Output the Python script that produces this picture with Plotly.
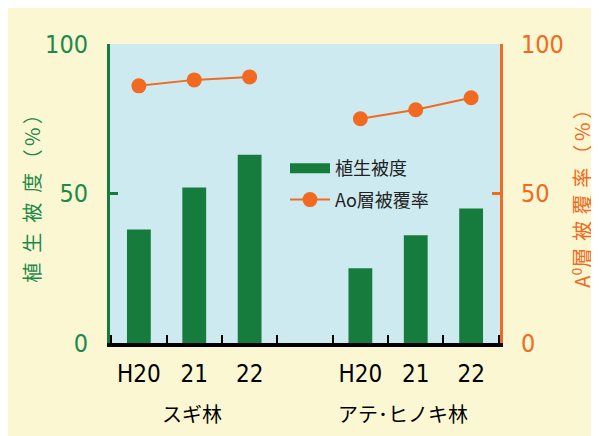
import plotly.graph_objects as go

# ---- data ----
cat_keys = ["スギH20", "スギ21", "スギ22", "gap", "アテH20", "アテ21", "アテ22"]
tick_labels = ["H20", "21", "22", "", "H20", "21", "22"]
group_labels = ["スギ林", "アテ･ヒノキ林"]
vegetation_cover = [38, 52, 63, None, 25, 36, 45]     # 植生被度 (%)
ao_cover = [86, 88, 89, None, 75, 78, 82]             # Ao層被覆率 (%)

GREEN = "#167C3E"
GREEN_TXT = "#1E8A4A"
ORANGE = "#F26A22"
CREAM = "#FBF7D3"
BLUE = "#CDEAF1"
NUM_FONT = "'Noto Sans Condensed', 'Liberation Sans Narrow', 'DejaVu Sans Condensed', 'Roboto Condensed', Roboto, sans-serif"
JP_FONT = "Noto Sans CJK JP"

fig = go.Figure()

fig.add_trace(go.Bar(
    x=cat_keys, y=vegetation_cover, marker=dict(color=GREEN, line=dict(width=0)),
    width=0.43, showlegend=False, name="植生被度",
))
# legend swatch for the bars (wide block like the original)
fig.add_trace(go.Scatter(
    x=[None], y=[None], mode="lines", line=dict(color=GREEN, width=13),
    name="植生被度", legendgroup="a",
))
fig.add_trace(go.Scatter(
    x=cat_keys, y=ao_cover, mode="lines+markers", yaxis="y2",
    line=dict(color=ORANGE, width=2), marker=dict(color=ORANGE, size=15),
    connectgaps=False, name="Ao層被覆率", legendgroup="b",
))

OFF = 8  # page body margin
W, H = 591, 428
L, T = 102, 36
pw, ph = 390, 299
R, B = W - L - pw, H - T - ph

def px(xp):
    return (xp - OFF - L) / pw

def py(yp):
    return (T + ph - (yp - OFF)) / ph

sp = "\u2002"
th = "\u2006"
sp2 = "\u2004"

fig.update_layout(
    width=W, height=H,
    margin=dict(l=L, r=R, t=T, b=B, autoexpand=False),
    paper_bgcolor=CREAM,
    plot_bgcolor=BLUE,
    font=dict(family=JP_FONT, color="#222"),
    xaxis=dict(
        type="category", categoryorder="array", categoryarray=cat_keys,
        tickvals=cat_keys, ticktext=tick_labels,
        tickson="boundaries", ticks="inside", ticklen=8, tickwidth=2, tickcolor="black",
        showline=True, linecolor="black", linewidth=4,
        showgrid=False, zeroline=False,
        tickfont=dict(family=NUM_FONT, size=24, color="black"),
        ticklabelstandoff=6,
    ),
    yaxis=dict(
        range=[0, 100], tickvals=[0, 50, 100],
        ticks="inside", ticklen=8, tickwidth=3, tickcolor=GREEN,
        showline=True, linecolor=GREEN, linewidth=3,
        showgrid=False, zeroline=False,
        tickfont=dict(family=NUM_FONT, size=25, color=GREEN_TXT),
        ticklabelstandoff=14,
        title=dict(text=sp.join("植生被度") + th + th.join(["（", "%", "）"]),
                   font=dict(family=JP_FONT, size=20, color=GREEN_TXT), standoff=0),
    ),
    yaxis2=dict(
        range=[0, 100], tickvals=[0, 50, 100], overlaying="y", side="right",
        ticks="inside", ticklen=8, tickwidth=3, tickcolor=ORANGE,
        showline=True, linecolor=ORANGE, linewidth=3,
        showgrid=False, zeroline=False,
        tickfont=dict(family=NUM_FONT, size=25, color=ORANGE),
        ticklabelstandoff=13,
        title=dict(text="A<sup>0</sup>" + sp2.join("層被覆率") + th + th.join(["（", "%", "）"]),
                   font=dict(family=JP_FONT, size=20, color=ORANGE), standoff=14),
    ),
    legend=dict(
        x=px(285), y=py(150), xanchor="left", yanchor="top",
        bgcolor="rgba(0,0,0,0)", font=dict(family=JP_FONT, size=18, color="#222"),
        traceorder="grouped", tracegroupgap=5, itemwidth=40,
    ),
    annotations=[
        dict(text=group_labels[0], xref="paper", yref="paper", x=px(192), y=py(413),
             xanchor="center", yanchor="middle",
             showarrow=False, font=dict(family=JP_FONT, size=20, color="black")),
        dict(text=group_labels[1], xref="paper", yref="paper", x=px(403), y=py(413),
             xanchor="center", yanchor="middle",
             showarrow=False, font=dict(family=JP_FONT, size=20, color="black")),
    ],
)

fig.write_html("out.html")
